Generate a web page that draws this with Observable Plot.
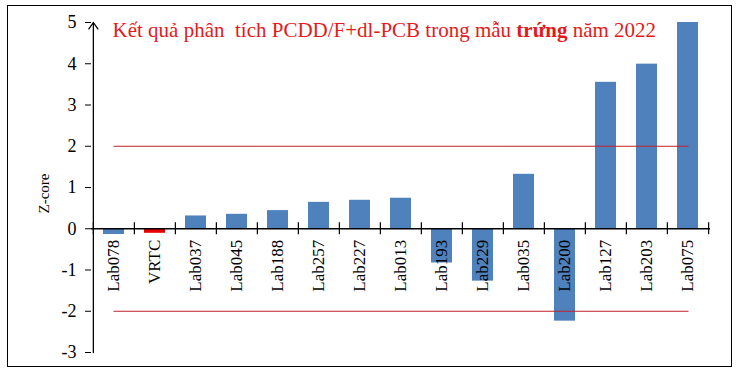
<!DOCTYPE html>
<html><head><meta charset="utf-8">
<script src="https://cdn.jsdelivr.net/npm/d3@7"></script>
<script src="https://cdn.jsdelivr.net/npm/@observablehq/plot@0.6"></script>
<style>
body{margin:0;background:#fff;}
#wrap{position:relative;width:739px;height:374px;}
#border{position:absolute;left:7px;top:5px;width:723px;height:360px;border:1.5px solid #000;pointer-events:none;}
</style></head><body>
<div id="wrap"><div id="chart"></div><div id="border"></div></div>
<script>
const labs = ["Lab078","VRTC","Lab037","Lab045","Lab188","Lab257","Lab227","Lab013","Lab193","Lab229","Lab035","Lab200","Lab127","Lab203","Lab075"];
const zscores = [-0.14,-0.11,0.31,0.35,0.44,0.64,0.69,0.74,-0.83,-1.27,1.32,-2.24,3.55,3.99,5.0];
const limits = [2,-2];
const yTicks = [-3,-2,-1,0,1,2,3,4,5];
const highlight = "VRTC";
const titleParts = ["Kết quả phân  tích PCDD/F+dl-PCB trong mẫu ", "trứng", " năm 2022"];
const yLabel = "Z-core";

const data = labs.map((lab,i)=>({lab, z: zscores[i]}));
const W=739,H=374, mL=91, mR=29, mT=22, mB=22;
const step = (W-mL-mR)/labs.length;
const limitLines = limits.flatMap(v => [{lab: labs[0], z: v, g: v}, {lab: labs[labs.length-1], z: v, g: v}]);
const axisArrow = [{x: labs[0], from: yTicks[0], to: yTicks[yTicks.length-1]}];
const title = titleParts.join("");
const serif = "'Liberation Serif','Times New Roman',serif";

const chart = Plot.plot({
  width: W, height: H, marginLeft: mL, marginRight: mR, marginTop: mT, marginBottom: mB,
  style: {fontFamily: serif, background: "#fff", color: "#000"},
  x: {domain: labs, paddingInner: 0.5, paddingOuter: 0.25, axis: null},
  y: {domain: [yTicks[0], yTicks[yTicks.length-1]], axis: null},
  marks: [
    Plot.barY(data, {x:"lab", y:"z", fill: d => d.lab===highlight ? "#e60000" : "#4f81bd"}),
    Plot.line(limitLines, {x:"lab", y:"z", z:"g", stroke:"#c0202a", strokeWidth:1.2}),
    Plot.ruleY([0], {stroke:"#000", strokeWidth:1.3}),
    Plot.ruleX(labs, {x: d=>d, y1: 0, y2: 0, insetTop:-6, insetBottom:-6, dx:-step/2, stroke:"#000", strokeWidth:1.2}),
    Plot.ruleX([labs[labs.length-1]], {x: d=>d, y1: 0, y2: 0, insetTop:-6, insetBottom:-6, dx:step/2, stroke:"#000", strokeWidth:1.2}),
    Plot.arrow(axisArrow, {x1:"x", x2:"x", y1:"from", y2:"to", dx:-step/2, stroke:"#000", strokeWidth:1.3, headLength:9, headAngle:70}),
    Plot.axisY({ticks: yTicks, tickSize: 6, tickPadding: 9, tickFormat: d => String(d), fontSize: 18, label: null}),
    Plot.text(data, {x:"lab", y: 0, text:"lab", rotate:-90, textAnchor:"end", dy: 11, fontSize: 17, fill:"#000"}),
    Plot.text([yLabel], {frameAnchor:"left", rotate:-90, textAnchor:"middle", dx:-47, dy: 6, fontSize: 15, fill:"#000"}),
    Plot.text([title], {frameAnchor:"top-left", dx:21, dy:14, lineAnchor:"bottom", textAnchor:"start", fill:"#e31a1c", fontSize:21})
  ]
});
document.getElementById("chart").appendChild(chart);
chart.querySelectorAll("text").forEach(t => {
  if (t.textContent === title) {
    t.textContent = "";
    t.style.whiteSpace = "pre";
    titleParts.forEach((p,i) => {
      const ts = document.createElementNS("http://www.w3.org/2000/svg","tspan");
      ts.textContent = p;
      if (i===1) ts.setAttribute("font-weight","bold");
      t.appendChild(ts);
    });
  }
});
</script>
</body></html>
